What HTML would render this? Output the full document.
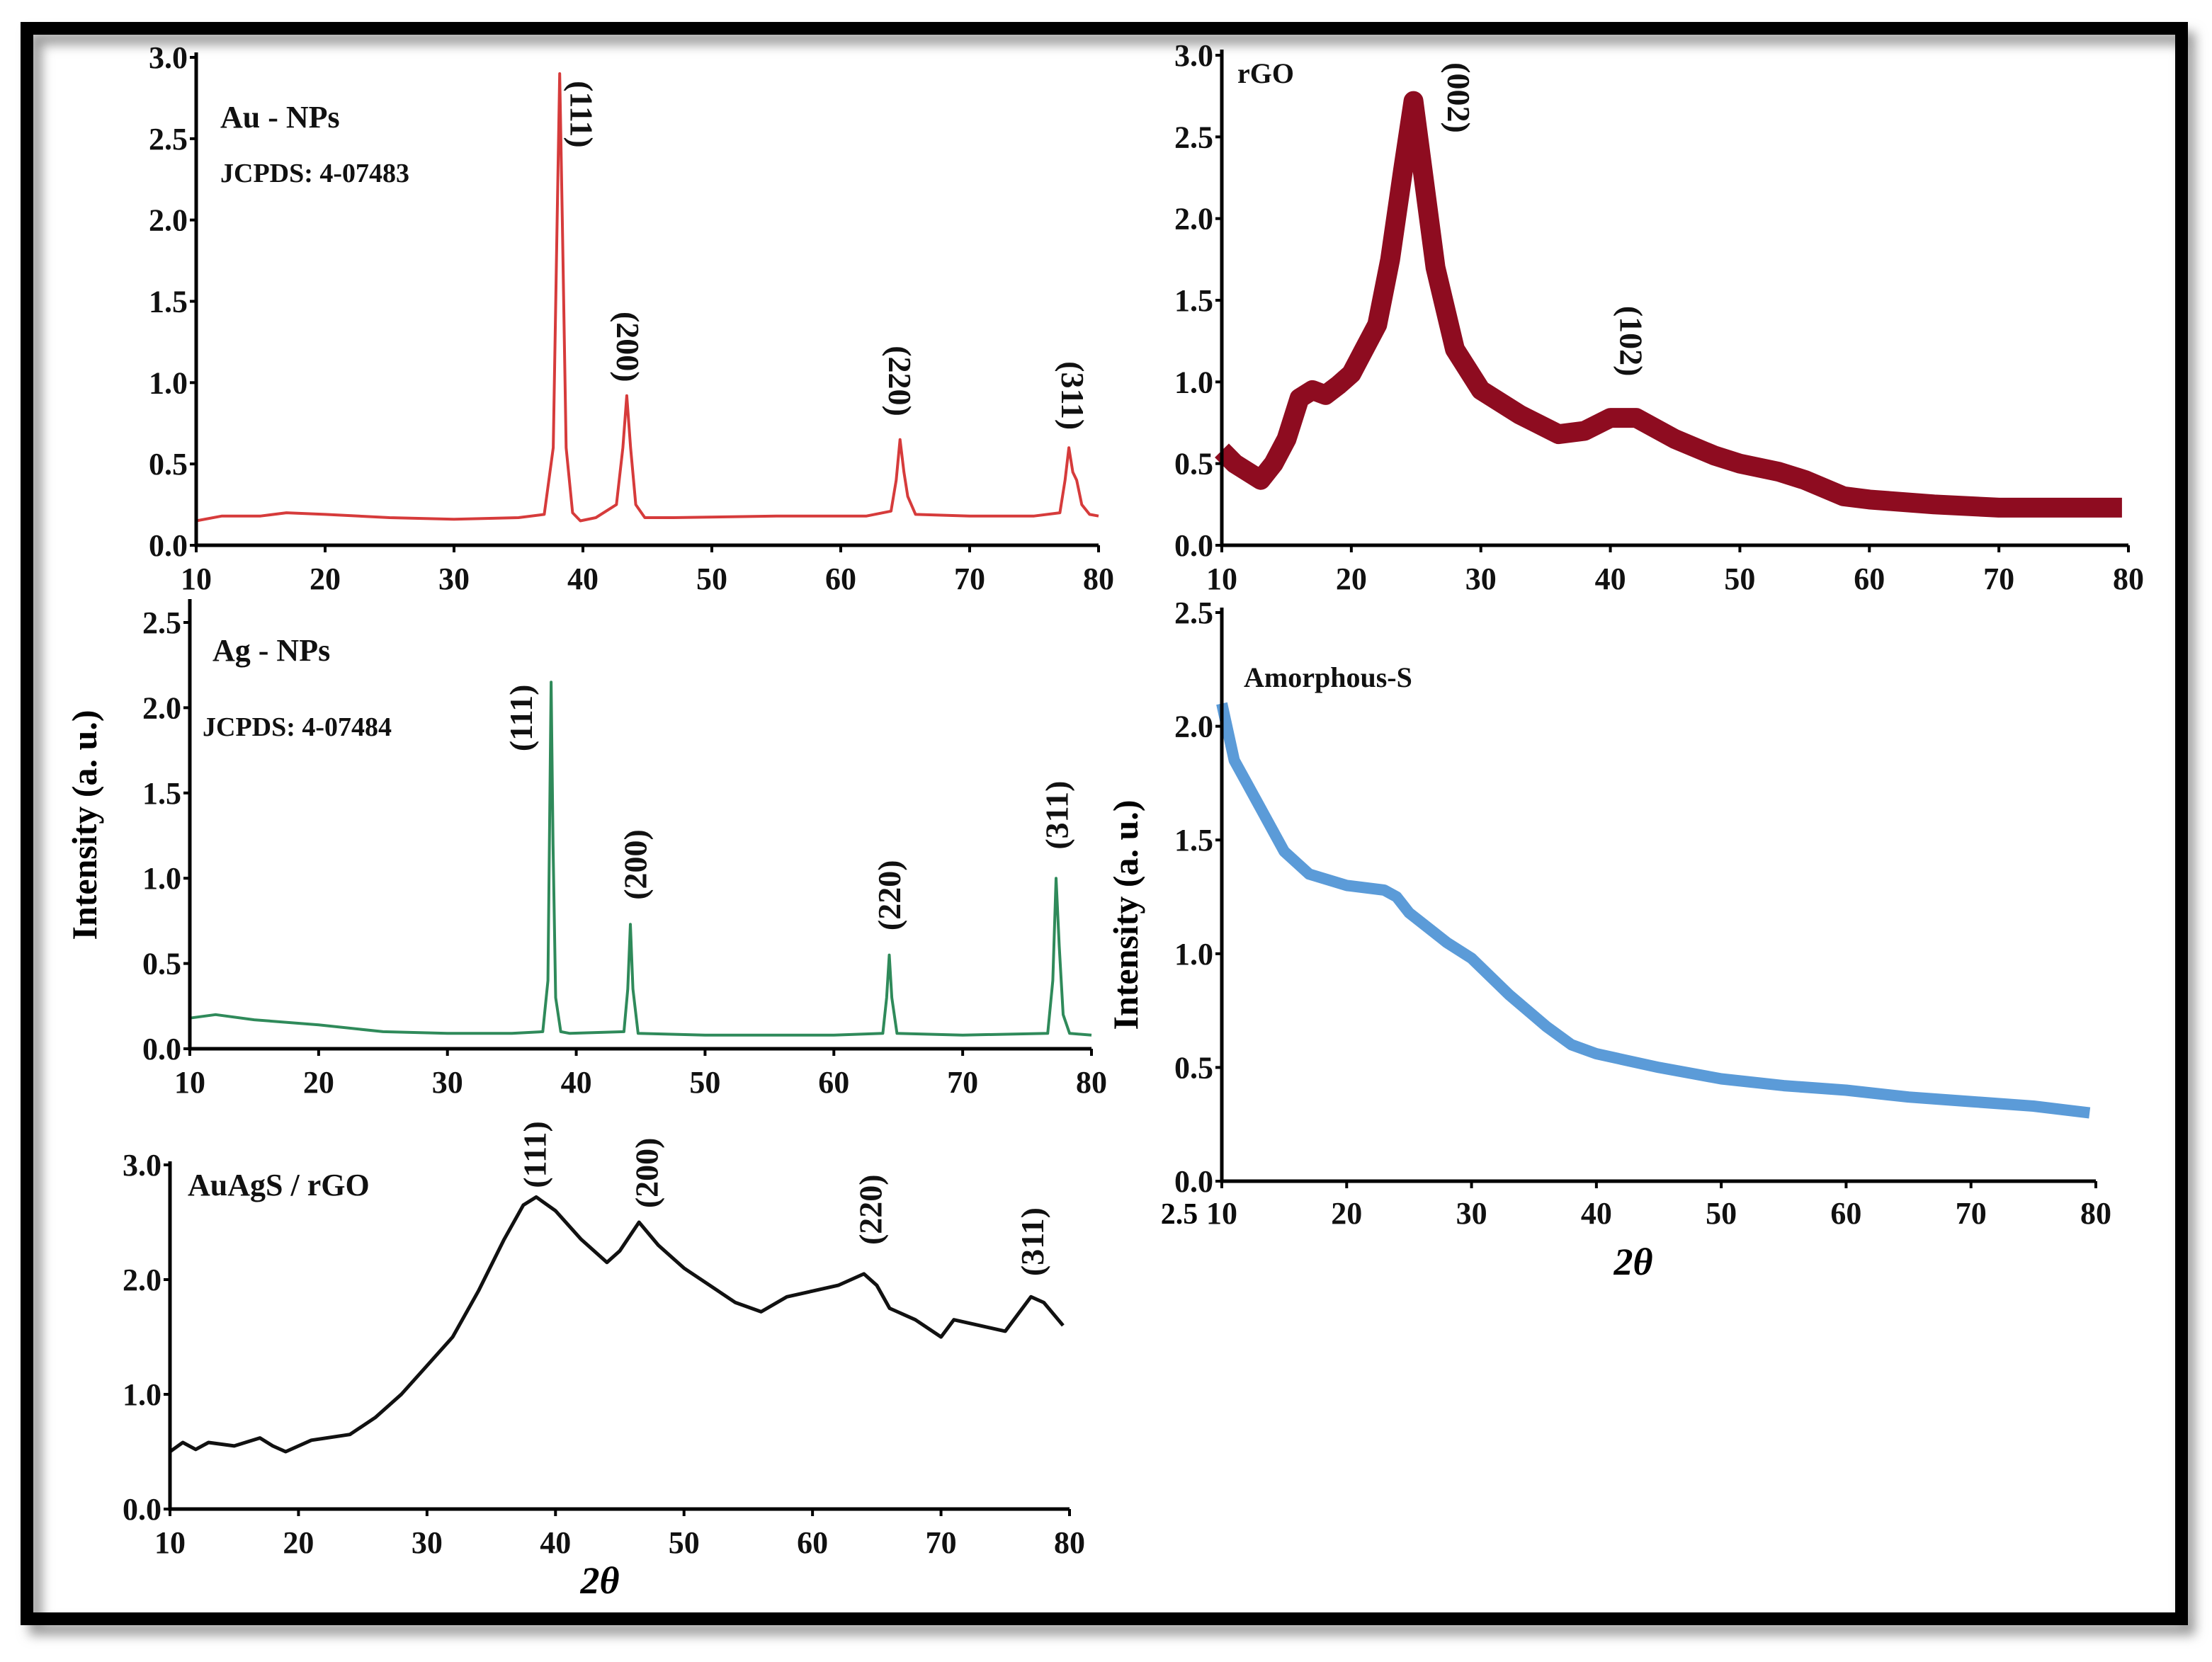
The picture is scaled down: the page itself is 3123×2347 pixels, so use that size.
<!DOCTYPE html>
<html><head><meta charset="utf-8"><style>
html,body{margin:0;padding:0;background:#fff;}
svg{display:block;font-family:"Liberation Serif",serif;}
</style></head><body>
<svg id="fig" width="3123" height="2347" viewBox="0 0 3123 2347" xmlns="http://www.w3.org/2000/svg">
<defs><filter id="sh" x="-5%" y="-5%" width="110%" height="110%"><feGaussianBlur stdDeviation="8"/></filter></defs>
<rect x="50" y="54" width="3040" height="2246" fill="none" stroke="#999" stroke-width="18" filter="url(#sh)"/>
<rect x="38" y="40" width="3042" height="2246" fill="none" stroke="#000" stroke-width="18"/>
<g id="plots"></g>
</svg>
<script>
// ---- data arrays ----
const auX=[10,12,15,17,20,25,30,35,37,37.7,38.0,38.2,38.4,38.7,39.2,39.8,41,42.6,43.1,43.4,43.7,44.1,44.8,47,55,62,63.9,64.3,64.6,64.9,65.2,65.8,70,75,77,77.4,77.7,78.0,78.3,78.7,79.3,80];
const auY=[0.15,0.18,0.18,0.2,0.19,0.17,0.16,0.17,0.19,0.6,2.0,2.9,2.0,0.6,0.2,0.15,0.17,0.25,0.6,0.92,0.6,0.25,0.17,0.17,0.18,0.18,0.21,0.4,0.65,0.45,0.3,0.19,0.18,0.18,0.2,0.4,0.6,0.45,0.4,0.25,0.19,0.18];
const agX=[10,12,15,20,25,30,35,37.4,37.8,38.05,38.2,38.4,38.8,39.5,43.7,44.0,44.2,44.4,44.8,50,60,63.8,64.1,64.3,64.5,64.9,70,76.6,77.0,77.25,77.5,77.8,78.3,80];
const agY=[0.18,0.2,0.17,0.14,0.1,0.09,0.09,0.1,0.4,2.15,1.2,0.3,0.1,0.09,0.1,0.35,0.73,0.35,0.09,0.08,0.08,0.09,0.3,0.55,0.3,0.09,0.08,0.09,0.4,1.0,0.6,0.2,0.09,0.08];
const rgoX=[10,11,12,13,14,15,16,17,18,19,20,21,22,23,24,24.8,25.5,26.5,28,30,33,36,38,40,42,45,48,50,53,55,58,60,65,70,75,79.5];
const rgoY=[0.58,0.5,0.45,0.4,0.5,0.65,0.9,0.95,0.92,0.98,1.05,1.2,1.35,1.75,2.3,2.72,2.3,1.7,1.2,0.95,0.8,0.68,0.7,0.78,0.78,0.65,0.55,0.5,0.45,0.4,0.3,0.28,0.25,0.23,0.23,0.23];
const amX=[10,11,12,13,15,17,20,23,24,25,28,30,33,36,38,40,45,50,55,60,65,70,75,79.5];
const amY=[2.1,1.85,1.75,1.65,1.45,1.35,1.3,1.28,1.25,1.18,1.05,0.98,0.82,0.68,0.6,0.56,0.5,0.45,0.42,0.4,0.37,0.35,0.33,0.3];
const mixX=[10,11,12,13,15,17,18,19,21,24,26,28,30,32,34,36,37.5,38.5,40,42,44,45,46.5,48,50,52,54,56,58,60,62,64,65,66,68,70,71,73,75,77,78,79.5];
const mixY=[0.5,0.58,0.52,0.58,0.55,0.62,0.55,0.5,0.6,0.65,0.8,1.0,1.25,1.5,1.9,2.35,2.65,2.72,2.6,2.35,2.15,2.25,2.5,2.3,2.1,1.95,1.8,1.72,1.85,1.9,1.95,2.05,1.95,1.75,1.65,1.5,1.65,1.6,1.55,1.85,1.8,1.6];
const xTickLabels=["10","20","30","40","50","60","70","80"];
const yTicks3=["0.0","0.5","1.0","1.5","2.0","2.5","3.0"];
const yTicks25=["0.0","0.5","1.0","1.5","2.0","2.5"];
const yTicksMix=["0.0","1.0","2.0","3.0"];
const auPeaks=["(111)","(200)","(220)","(311)"];
const auPeakX=[39.9,43.5,64.6,78.0];
const auPeakY=[2.65,1.22,1.01,0.92];
const rgoPeaks=["(002)","(102)"];
const rgoPeakX=[28.3,41.6];
const rgoPeakY=[2.74,1.25];
const agPeaks=["(111)","(200)","(220)","(311)"];
const agPeakX=[35.7,44.6,64.3,77.3];
const agPeakY=[1.94,1.08,0.9,1.37];
const mixPeaks=["(111)","(200)","(220)","(311)"];
const mixPeakX=[38.4,47.1,64.5,77.1];
const mixPeakY=[3.09,2.93,2.61,2.33];

const NS="http://www.w3.org/2000/svg";
const root=document.getElementById('plots');
function mk(tag,attrs,parent,txt){const e=document.createElementNS(NS,tag);for(const k in attrs)e.setAttribute(k,attrs[k]);if(txt!==undefined)e.textContent=txt;parent.appendChild(e);return e;}

function panel(o){
  const g=mk('g',{},root);
  
  
  const sx=v=>o.x0+(v-10)/70*(o.x1-o.x0);
  const sy=v=>o.y0-v/o.ymax*(o.y0-o.y1);
  let d='';
  o.xs.forEach((v,i)=>{d+=(i?'L':'M')+sx(v).toFixed(1)+','+sy(o.ys[i]).toFixed(1);});
  const p=mk('path',{d:d,fill:'none',stroke:o.color,'stroke-width':o.sw,'stroke-linejoin':'round','stroke-linecap':'butt'},g);
  
  
  const ax=mk('path',{d:`M${o.x0},${o.ytop}L${o.x0},${o.y0}L${o.x1},${o.y0}`,fill:'none',stroke:'#000','stroke-width':5},g);
  
  
  xTickLabels.forEach((t,i)=>{
    const v=10+i*10,x=sx(v);
    mk('line',{x1:x,y1:o.y0,x2:x,y2:o.y0+10,stroke:'#000','stroke-width':4},g);
    const tx=mk('text',{x:x,y:o.y0+o.xlOff,'text-anchor':'middle','font-size':44,'font-weight':'bold',fill:'#111'},g,t);
    
    
  });
  o.yt.forEach((t,i)=>{
    const v=parseFloat(t),y=sy(v);
    mk('line',{x1:o.x0-9,y1:y,x2:o.x0,y2:y,stroke:'#000','stroke-width':4},g);
    const ty=mk('text',{x:o.x0-12,y:y+15,'text-anchor':'end','font-size':44,'font-weight':'bold',fill:'#111'},g,t);
    
    
  });
  o.pk.forEach((t,i)=>{
    const x=sx(o.pkx[i]),y=sy(o.pky[i]);
    const tt=mk('text',{x:x,y:y,'text-anchor':'middle','dominant-baseline':'central','font-size':46,'font-weight':'bold',fill:'#111',transform:`rotate(${o.rot} ${x} ${y})`},g,t);
    
    
  });
  o.titles.forEach(tl=>{
    const tt=mk('text',{x:tl[0],y:tl[1],'font-size':tl[3],'font-weight':'bold',fill:'#111'},g,tl[2]);
    
    
  });
}
panel({name:'au',x0:277,x1:1551,y0:770,y1:81,ytop:74,ymax:3,xs:auX,ys:auY,color:'#d63b3b',sw:4,yt:yTicks3,xlOff:62,pk:auPeaks,pkx:auPeakX,pky:auPeakY,rot:90,titles:[[311,180,'Au - NPs',44],[311,257,'JCPDS: 4-07483',38]]});
panel({name:'rgo',x0:1725,x1:3005,y0:770,y1:78,ytop:70,ymax:3,xs:rgoX,ys:rgoY,color:'#8e0c20',sw:28,yt:yTicks3,xlOff:62,pk:rgoPeaks,pkx:rgoPeakX,pky:rgoPeakY,rot:90,titles:[[1747,117,'rGO',40]]});
panel({name:'ag',x0:268,x1:1541,y0:1481,y1:879,ytop:846,ymax:2.5,xs:agX,ys:agY,color:'#2f8a5a',sw:4,yt:yTicks25,xlOff:62,pk:agPeaks,pkx:agPeakX,pky:agPeakY,rot:-90,titles:[[300,933,'Ag - NPs',44],[286,1039,'JCPDS: 4-07484',38]]});
panel({name:'amorphous',x0:1725,x1:2959,y0:1668,y1:865,ytop:858,ymax:2.5,xs:amX,ys:amY,color:'#5b9bd8',sw:16,yt:yTicks25,xlOff:60,pk:[],pkx:[],pky:[],rot:-90,titles:[[1756,970,'Amorphous-S',40]]});
panel({name:'auags-rgo',x0:240,x1:1510,y0:2131,y1:1645,ytop:1640,ymax:3,xs:mixX,ys:mixY,color:'#111',sw:5,yt:yTicksMix,xlOff:62,pk:mixPeaks,pkx:mixPeakX,pky:mixPeakY,rot:-90,titles:[[265,1688,'AuAgS / rGO',44]]});

const svg=document.getElementById('fig');
let t;
t=mk('text',{x:119,y:1165,'text-anchor':'middle','dominant-baseline':'central','font-size':50,'font-weight':'bold',transform:'rotate(-90 119 1165)'},svg,'Intensity (a. u.)');


t=mk('text',{x:1589,y:1292,'text-anchor':'middle','dominant-baseline':'central','font-size':50,'font-weight':'bold',transform:'rotate(-90 1589 1292)'},svg,'Intensity (a. u.)');


t=mk('text',{x:847,y:2250,'text-anchor':'middle','font-size':54,'font-style':'italic','font-weight':'bold'},svg,'2θ');


t=mk('text',{x:2306,y:1800,'text-anchor':'middle','font-size':54,'font-style':'italic','font-weight':'bold'},svg,'2θ');


t=mk('text',{x:1665,y:1728,'text-anchor':'middle','font-size':42,'font-weight':'bold'},svg,'2.5');


</script>
</body></html>
